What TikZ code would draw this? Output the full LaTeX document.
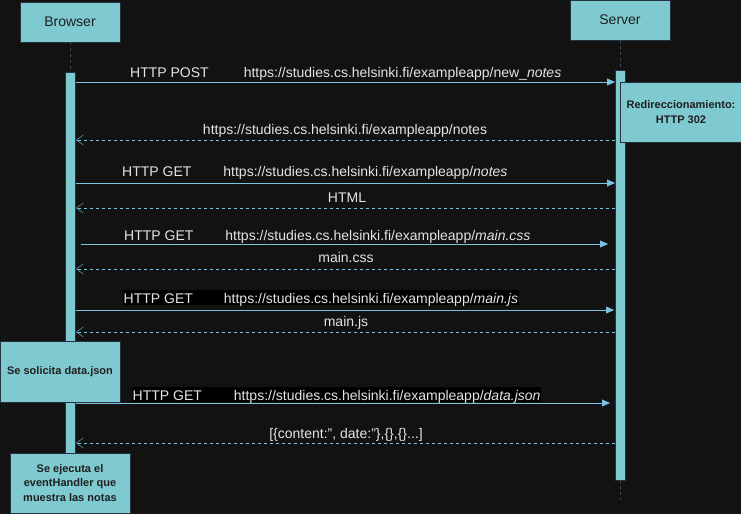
\documentclass[tikz,border=0pt]{standalone}
\usepackage{fontspec}
\setmainfont{Liberation Sans}
\usepackage{xcolor}
\usetikzlibrary{arrows.meta}
\definecolor{canvas}{HTML}{121212}
\definecolor{boxfill}{HTML}{7FC9D0}
\definecolor{boxline}{HTML}{24333D}
\definecolor{msgline}{HTML}{7CC3E3}
\definecolor{msgtext}{HTML}{E4E4E4}
\definecolor{lifeline}{HTML}{3A4B57}

\begin{document}
\begin{tikzpicture}[x=1pt, y=-1pt,
actor/.style={draw=boxline, fill=boxfill, minimum width=100pt, minimum height=40pt, text=black!88, font=\fontsize{14}{16}\selectfont},
note/.style={draw=boxline, fill=boxfill, align=center, inner sep=0pt, text=black!88, font=\fontsize{11}{14.5}\selectfont\bfseries},
activation/.style={draw=boxline, fill=boxfill, minimum width=10pt, inner sep=0pt},
life/.style={draw=lifeline, dash pattern=on 3pt off 3pt},
msg/.style={draw=msgline, -{Triangle[length=8pt,width=7pt]}},
reply/.style={draw=msgline, dash pattern=on 3pt off 3pt, -{Straight Barb[length=7pt,width=10pt]}},
msg text/.style={text=msgtext, inner sep=0pt, font=\fontsize{14}{16}\selectfont},
request/.style={msg text, anchor=base west},
answer/.style={msg text, anchor=base},
dark back/.style={fill=black, text height=13pt, text depth=2pt, inner ysep=0pt, inner xsep=0.5pt}]
\useasboundingbox (0,0) rectangle (741,514);
\fill[canvas] (0,0) rectangle (741,514);

\node[actor] (browser box) at (70,22) {Browser};
\node[actor] (server box) at (620,20) {Server};
\node[activation, minimum height=381pt] (browser bar) at (70,262.5) {};
\node[activation, minimum height=410pt] (server bar) at (620,275) {};
\coordinate (server end) at (620,500);
\draw[life] (browser box) -- (browser bar);
\draw[life] (server box) -- (server bar);
\draw[life] (server bar) -- (server end);

\coordinate (b post) at (76,82);   \coordinate (s post) at (615,82);
\coordinate (s redirect) at (615,140); \coordinate (b redirect) at (76,140);
\coordinate (b notes) at (76,183);  \coordinate (s notes) at (615,183);
\coordinate (s html) at (615,208);  \coordinate (b html) at (76,208);
\coordinate (b css) at (81,244);    \coordinate (s css) at (608,244);
\coordinate (s css back) at (615,269); \coordinate (b css back) at (76,269);
\coordinate (b js) at (76,310);     \coordinate (s js) at (614,310);
\coordinate (s js back) at (615,332); \coordinate (b js back) at (76,332);
\coordinate (b json) at (76,403);   \coordinate (s json) at (610,403);
\coordinate (s json back) at (615,443); \coordinate (b json back) at (76,443);

\draw[msg] (b post) -- (s post);
\draw[reply] (s redirect) -- (b redirect);
\draw[msg] (b notes) -- (s notes);
\draw[reply] (s html) -- (b html);
\draw[msg] (b css) -- (s css);
\draw[reply] (s css back) -- (b css back);
\draw[msg] (b js) -- (s js);
\draw[reply] (s js back) -- (b js back);
\draw[msg] (b json) -- (s json);
\draw[reply] (s json back) -- (b json back);

\node[request] (post label) at (130,77) {HTTP POST\hspace{35pt}https://studies.cs.helsinki.fi/exampleapp/new\_\textit{notes}};
\node[answer] (redirect label) at (345,134) {https://studies.cs.helsinki.fi/exampleapp/notes};
\node[request] (notes label) at (122,176) {HTTP GET\hspace{32pt}https://studies.cs.helsinki.fi/exampleapp/\textit{notes}};
\node[answer] (html label) at (347,202) {HTML};
\node[request] (css label) at (124,240) {HTTP GET\hspace{32pt}https://studies.cs.helsinki.fi/exampleapp/\textit{main.css}};
\node[answer] (css back label) at (346,262) {main.css};
\node[request, dark back] (js label) at (123,303) {HTTP GET\hspace{31pt}https://studies.cs.helsinki.fi/exampleapp/\textit{main.js}};
\node[answer] (js back label) at (346,326) {main.js};
\node[request, dark back] (json label) at (132,400) {HTTP GET\hspace{32pt}https://studies.cs.helsinki.fi/exampleapp/\textit{data.json}};
\node[answer] (json back label) at (346,438) {[\{content:\char34, date:\char34\},\{\},\{\}...]};

\node[note, minimum width=122pt, minimum height=60pt] (redirect note) at (681,112) {Redireccionamiento:\\HTTP 302};
\node[note, minimum width=120pt, minimum height=61pt] (json note) at (60,371.5) {Se solicita data.json};
\node[note, minimum width=120pt, minimum height=60pt] (handler note) at (70,483) {Se ejecuta el\\eventHandler que\\muestra las notas};
\end{tikzpicture}
\end{document}
